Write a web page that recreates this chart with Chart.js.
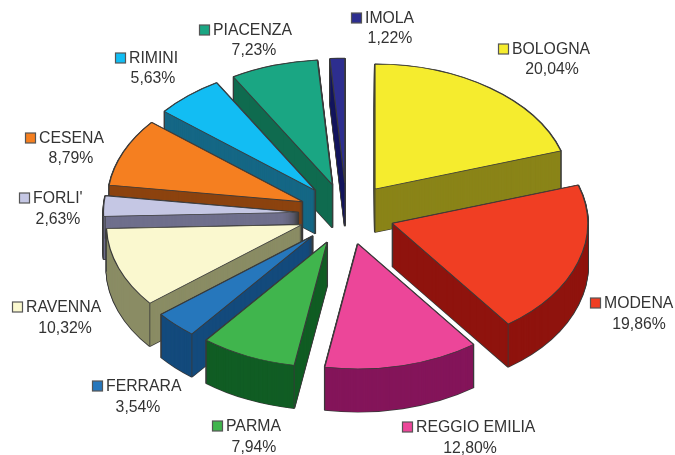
<!DOCTYPE html>
<html>
<head>
<meta charset="utf-8">
<style>html,body{margin:0;padding:0;background:#fff}canvas{display:block}</style>
<script src="https://cdn.jsdelivr.net/npm/chart.js@4"></script>
</head>
<body>
<canvas id="c" width="675" height="455"></canvas>
<script>
const categories = ['BOLOGNA','MODENA','REGGIO EMILIA','PARMA','FERRARA','RAVENNA',"FORLI'",'CESENA','RIMINI','PIACENZA','IMOLA'];
const shares = [20.04,19.86,12.80,7.94,3.54,10.32,2.63,8.79,5.63,7.23,1.22];
const topColors = ['#f5ec2e','#f03e23','#ec4699','#40b54d','#2677bc','#faf8cf','#c5c7e4','#f57f20','#12bdf3','#1aa683','#2d2e8f'];
const sideColors = ['#8a8418','#8f130d','#84155a','#115d24','#134a7c','#8a8c64','#6f6f8c','#8c430f','#156785','#0f6b4f','#15175e'];

// view settings of the tilted, exploded pie
const TILT = 0.64, DEPTH = 43, EXPLODE = 48, EDGE = '#3a3a3a';
// square x, text centre-line y, percent centre x, percent y
const labelSpots = [
  [498,49,552,69],[590,303,639,324],[402,427,470,448],[212,426,254,447],
  [92,386,138,407],[12,307,65,328],[19,198,58,219],[25,138,71,158],
  [115,58,153,78],[199,30,254,50],[351,18,390,38]
];

const pie3d = {
  id: 'pie3d',
  beforeDatasetDraw(chart, args) {
    const ctx = chart.ctx;
    const arcs = args.meta.data;
    const mid = a => (a.startAngle + a.endAngle) / 2;
    const order = arcs.map((a, i) => i).sort((p, q) => Math.sin(mid(arcs[p])) - Math.sin(mid(arcs[q])));
    ctx.save();
    const pivot = arcs[0].y;
    ctx.translate(0, pivot);
    ctx.scale(1, TILT);
    ctx.translate(0, -pivot);
    order.forEach(i => {
      const a = arcs[i], base = a.options, m = mid(a);
      ctx.save();
      ctx.translate(Math.cos(m) * EXPLODE, Math.sin(m) * EXPLODE);
      const withStyle = (o, dy) => {
        a.options = Object.assign({}, base, o);
        ctx.save(); ctx.translate(0, dy / TILT); a.draw(ctx); ctx.restore();
      };
      for (let k = DEPTH; k >= 0; k--) withStyle({backgroundColor: sideColors[i], borderColor: EDGE, borderWidth: 2}, k);
      for (let k = DEPTH; k >= 0; k--) withStyle({backgroundColor: sideColors[i], borderWidth: 0}, k);
      // vertical edges of the extruded wedge
      ctx.beginPath();
      [[a.x, a.y],
       [a.x + Math.cos(a.startAngle) * a.outerRadius, a.y + Math.sin(a.startAngle) * a.outerRadius],
       [a.x + Math.cos(a.endAngle) * a.outerRadius, a.y + Math.sin(a.endAngle) * a.outerRadius]
      ].forEach(p => { ctx.moveTo(p[0], p[1]); ctx.lineTo(p[0], p[1] + DEPTH / TILT); });
      ctx.strokeStyle = EDGE; ctx.lineWidth = 1; ctx.stroke();
      withStyle({backgroundColor: topColors[i], borderColor: EDGE, borderWidth: 1.2}, 0);
      a.options = base;
      ctx.restore();
    });
    ctx.restore();
    return false;
  },
  afterDraw(chart) {
    const ctx = chart.ctx;
    ctx.save();
    ctx.font = '15.8px "Liberation Sans", Arial, sans-serif';
    ctx.textBaseline = 'middle';
    categories.forEach((name, i) => {
      const [sx, ty, px, py] = labelSpots[i];
      ctx.fillStyle = topColors[i];
      ctx.strokeStyle = '#555';
      ctx.lineWidth = 1.2;
      ctx.fillRect(sx + .5, ty - 5, 10, 10);
      ctx.strokeRect(sx + .5, ty - 5, 10, 10);
      ctx.fillStyle = '#333';
      ctx.textAlign = 'left';
      ctx.fillText(name, sx + 14, ty + 0.5);
      ctx.textAlign = 'center';
      ctx.fillText(shares[i].toFixed(2).replace('.', ',') + '%', px, py + 0.5);
    });
    ctx.restore();
  }
};

new Chart(document.getElementById('c'), {
  type: 'pie',
  data: { labels: categories, datasets: [{ data: shares, backgroundColor: topColors, borderWidth: 0 }] },
  options: {
    responsive: false,
    animation: false,
    radius: 195.3,
    layout: { padding: { left: 18.4, bottom: 27 } },
    plugins: { legend: { display: false }, tooltip: { enabled: false } }
  },
  plugins: [pie3d]
});
</script>
</body>
</html>
